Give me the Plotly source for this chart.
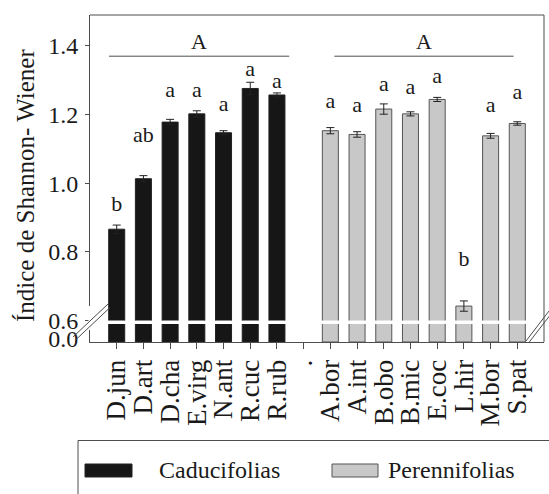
import plotly.graph_objects as go

# ---------------- data ----------------
categories = ["D.jun", "D.art", "D.cha", "E.virg", "N.ant", "R.cuc", "R.rub", ".",
              "A.bor", "A.int", "B.obo", "B.mic", "E.coc", "L.hir", "M.bor", "S.pat"]

decid_names = ["D.jun", "D.art", "D.cha", "E.virg", "N.ant", "R.cuc", "R.rub"]
decid_vals = [0.866, 1.013, 1.178, 1.202, 1.147, 1.276, 1.257]
decid_err = [0.012, 0.009, 0.008, 0.009, 0.006, 0.018, 0.006]
decid_sig = ["b", "ab", "a", "a", "a", "a", "a"]

ever_names = ["A.bor", "A.int", "B.obo", "B.mic", "E.coc", "L.hir", "M.bor", "S.pat"]
ever_vals = [1.153, 1.142, 1.216, 1.202, 1.244, 0.642, 1.138, 1.174]
ever_err = [0.009, 0.008, 0.015, 0.006, 0.006, 0.015, 0.007, 0.005]
ever_sig = ["a", "a", "a", "a", "a", "b", "a", "a"]

group_names = ["Caducifolias", "Perennifolias"]
group_sig = ["A", "A"]

y_ticks_upper = [0.6, 0.8, 1.0, 1.2, 1.4]
y_ticks_lower = [0.0]

# -------------- styling --------------
FONT = "Liberation Serif"
TXT = "#1a1a1a"
AX = "#4d4d4d"
BLACK = "#161616"
GREY = "#c8c8c8"

# letter label heights (layout positions, in axis units)
decid_lab_y = [0.934, 1.136, 1.267, 1.267, 1.226, 1.329, 1.292]
ever_lab_y = [1.234, 1.224, 1.284, 1.277, 1.307, 0.776, 1.222, 1.260]

fig = go.Figure()

err_style = dict(type="data", color="#222222", thickness=1, width=4)

# upper (broken) segment
fig.add_bar(x=decid_names, y=decid_vals, name=group_names[0], xaxis="x", yaxis="y",
            marker=dict(color=BLACK, line=dict(color="#222222", width=1)), width=0.6,
            error_y=dict(array=decid_err, **err_style), showlegend=False)
fig.add_bar(x=ever_names, y=ever_vals, name=group_names[1], xaxis="x", yaxis="y",
            marker=dict(color=GREY, line=dict(color="#555555", width=1)), width=0.6,
            error_y=dict(array=ever_err, **err_style), showlegend=False)
# lower segment (0 .. break)
fig.add_bar(x=decid_names, y=decid_vals, name=group_names[0], xaxis="x", yaxis="y2",
            marker=dict(color=BLACK, line=dict(color="#222222", width=1)), width=0.6,
            showlegend=False)
fig.add_bar(x=ever_names, y=ever_vals, name=group_names[1], xaxis="x", yaxis="y2",
            marker=dict(color=GREY, line=dict(color="#555555", width=1)), width=0.6,
            showlegend=False)

# significance letters
fig.add_scatter(x=decid_names, y=decid_lab_y, text=decid_sig, mode="text", xaxis="x", yaxis="y",
                textfont=dict(family=FONT, size=22, color=TXT), showlegend=False, hoverinfo="skip")
fig.add_scatter(x=ever_names, y=ever_lab_y, text=ever_sig, mode="text", xaxis="x", yaxis="y",
                textfont=dict(family=FONT, size=22, color=TXT), showlegend=False, hoverinfo="skip")

# group lines + "A"
group_spans = [(-0.29, 6.46), (8.15, 14.86)]
shapes = []
annotations = []
for (g0, g1), lab in zip(group_spans, group_sig):
    shapes.append(dict(type="line", xref="x", yref="y", x0=g0, x1=g1, y0=1.370, y1=1.370,
                       line=dict(color=AX, width=1)))
    annotations.append(dict(xref="x", yref="y", x=(g0 + g1) / 2, y=1.413, text=lab,
                            showarrow=False, font=dict(family=FONT, size=22, color=TXT)))

W, H = 549, 494
L, R, T, B = 90, 5, 15, 152
pw, ph = W - L - R, H - T - B


def px(x):
    return (x - L) / pw


def py(y):
    return (H - B - y) / ph


# frame top & right
shapes.append(dict(type="line", xref="paper", yref="paper", x0=0, x1=1, y0=1, y1=1,
                   line=dict(color=AX, width=1)))
shapes.append(dict(type="line", xref="paper", yref="paper", x0=1, x1=1, y0=0, y1=1,
                   line=dict(color=AX, width=1)))
# white mask on axis at the break
shapes.append(dict(type="line", xref="paper", yref="paper", x0=0, x1=0, y0=py(330), y1=py(306),
                   line=dict(color="white", width=3), layer="above"))
# break marks left
for (a, b, c, d) in [(73, 337, 108, 304), (75, 340.5, 110, 307.5)]:
    shapes.append(dict(type="line", xref="paper", yref="paper", x0=px(a), y0=py(b), x1=px(c), y1=py(d),
                       line=dict(color=AX, width=1)))
# break marks right
for (a, b, c, d) in [(526, 341, 549, 311), (528.5, 343, 551, 314)]:
    shapes.append(dict(type="line", xref="paper", yref="paper", x0=px(a), y0=py(b), x1=px(c), y1=py(d),
                       line=dict(color=AX, width=1)))

# legend box (manual)
shapes.append(dict(type="rect", xref="paper", yref="paper", x0=px(78), x1=px(600), y0=py(520), y1=py(440.5),
                   line=dict(color=AX, width=1), fillcolor="rgba(0,0,0,0)"))
shapes.append(dict(type="rect", xref="paper", yref="paper", x0=px(85), x1=px(132), y0=py(477), y1=py(464),
                   line=dict(color="#222222", width=1), fillcolor=BLACK))
shapes.append(dict(type="rect", xref="paper", yref="paper", x0=px(332), x1=px(378), y0=py(477), y1=py(464),
                   line=dict(color="#555555", width=1), fillcolor=GREY))
annotations.append(dict(xref="paper", yref="paper", x=px(157), y=py(470), text=group_names[0],
                        showarrow=False, xanchor="left", yanchor="middle",
                        font=dict(family=FONT, size=24, color=TXT)))
annotations.append(dict(xref="paper", yref="paper", x=px(386), y=py(470), text=group_names[1],
                        showarrow=False, xanchor="left", yanchor="middle",
                        font=dict(family=FONT, size=24, color=TXT)))

# y title
annotations.append(dict(xref="paper", yref="paper", x=px(25), y=py(186), text="Índice de Shannon- Wiener",
                        textangle=-90, showarrow=False, xanchor="center", yanchor="middle",
                        font=dict(family=FONT, size=25, color=TXT)))

upper_bottom = py(320.5)
lower_top = py(324)

fig.update_layout(
    width=W, height=H,
    margin=dict(l=L, r=R, t=T, b=B, pad=0),
    paper_bgcolor="white", plot_bgcolor="white",
    barmode="overlay",
    showlegend=False,
    font=dict(family=FONT, color=TXT),
    xaxis=dict(type="category", categoryorder="array", categoryarray=categories,
               tickvals=categories, ticktext=categories,
               range=[-1, 16], anchor="y2", showline=True, linecolor=AX, linewidth=1,
               ticks="outside", ticklen=6, tickcolor=AX, tickangle=-90,
               tickfont=dict(family=FONT, size=27, color=TXT), showgrid=False, zeroline=False),
    yaxis=dict(domain=[upper_bottom, 1], range=[0.6, 1.49], anchor="x",
               tickvals=y_ticks_upper, ticktext=[f"{v:.1f}" for v in y_ticks_upper],
               showline=True, linecolor=AX, linewidth=1, ticks="outside", ticklen=4, tickcolor=AX,
               tickfont=dict(family=FONT, size=24, color=TXT), ticklabelstandoff=2,
               showgrid=False, zeroline=False),
    yaxis2=dict(domain=[0, lower_top], range=[0, 0.05], anchor="x",
                tickvals=y_ticks_lower, ticktext=[f"{v:.1f}" for v in y_ticks_lower],
                showline=True, linecolor=AX, linewidth=1, ticks="", ticklabelshift=-3,
                tickfont=dict(family=FONT, size=24, color=TXT), ticklabelstandoff=6,
                showgrid=False, zeroline=False),
    shapes=shapes,
    annotations=annotations,
)

fig.write_html("out.html", config={"displayModeBar": False},
               post_script="document.body.style.margin='0';document.body.style.overflow='hidden';")
